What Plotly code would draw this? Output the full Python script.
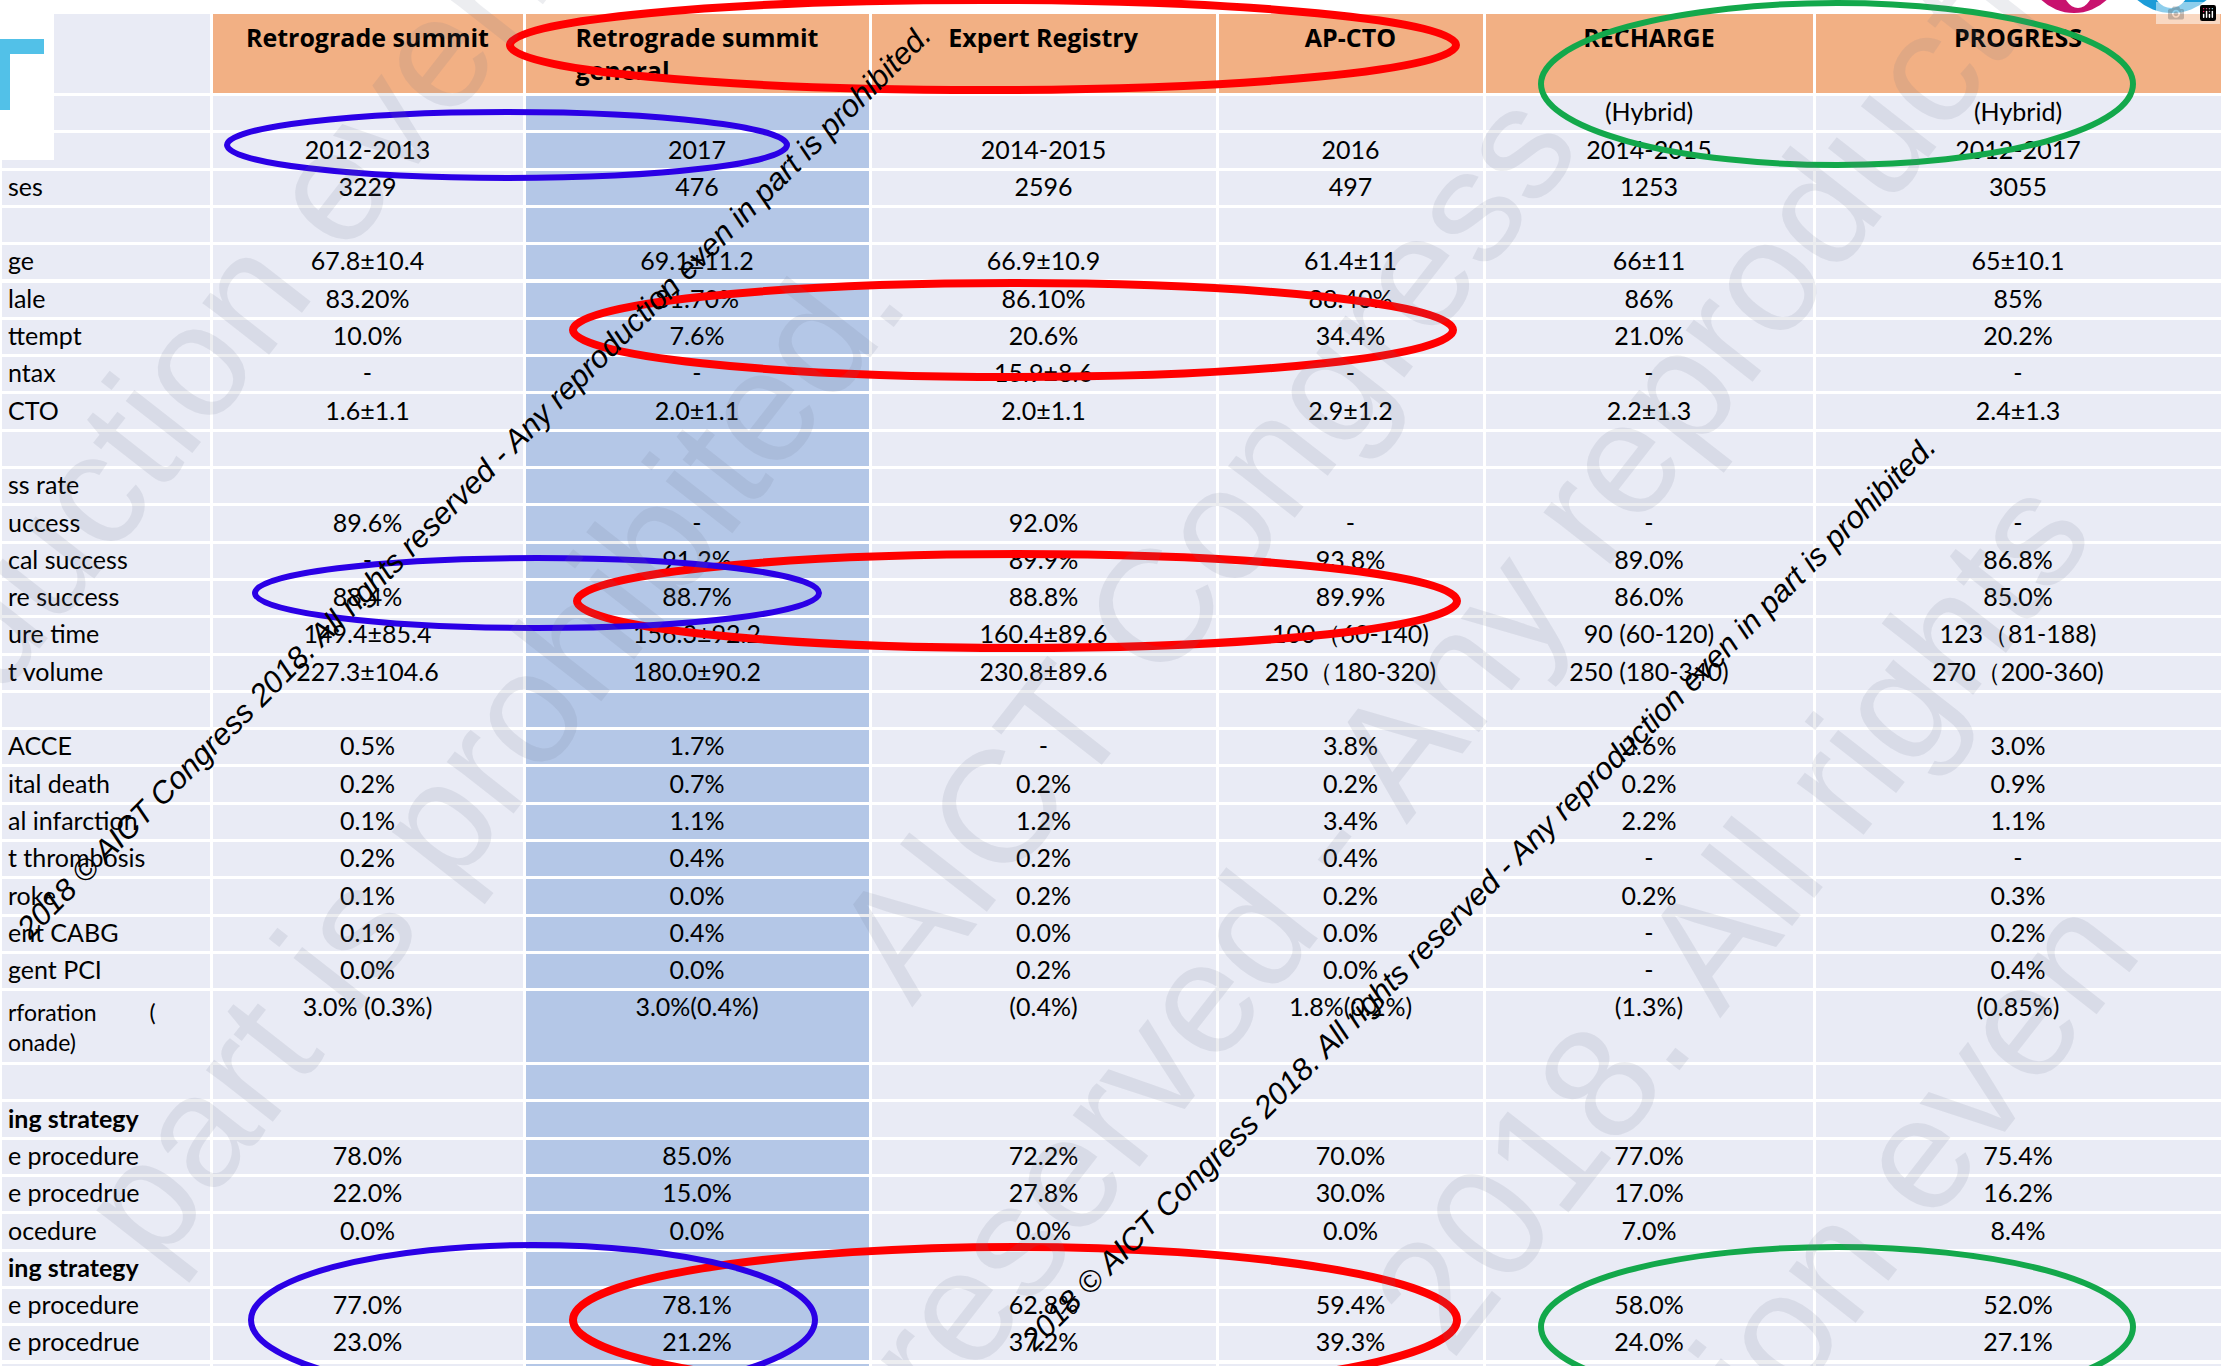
import math
import plotly.graph_objects as go

W, H = 2222, 1366

# ---------------- data ----------------
headers = ["", "Retrograde summit", "Retrograde summit<br>general", "Expert Registry",
           "AP-CTO", "RECHARGE", "PROGRESS"]

row_labels = ["", "", "ses", "", "ge", "lale", "ttempt", "ntax", "CTO", "",
              "ss rate", "uccess", "cal success", "re success", "ure time", "t volume", "",
              "ACCE", "ital death", "al infarction", "t thrombosis", "roke", "ent CABG",
              "gent PCI", "rforation" + "\u00a0" * 9 + "(<br>onade)", "",
              "ing\u00a0strategy", "e procedure", "e procedrue", "ocedure",
              "ing\u00a0strategy", "e procedure", "e procedrue", ""]

bold_labels = ["ing\u00a0strategy"]
two_line_labels = [row_labels[24]]

retro_summit = ["", "2012-2013", "3229", "", "67.8±10.4", "83.20%", "10.0%", "-", "1.6±1.1", "",
                "", "89.6%", "-", "88.4%", "149.4±85.4", "227.3±104.6", "",
                "0.5%", "0.2%", "0.1%", "0.2%", "0.1%", "0.1%", "0.0%", "3.0% (0.3%)", "",
                "", "78.0%", "22.0%", "0.0%", "", "77.0%", "23.0%", ""]

retro_general = ["", "2017", "476", "", "69.1±11.2", "81.70%", "7.6%", "-", "2.0±1.1", "",
                 "", "-", "91.2%", "88.7%", "156.3±92.2", "180.0±90.2", "",
                 "1.7%", "0.7%", "1.1%", "0.4%", "0.0%", "0.4%", "0.0%", "3.0%(0.4%)", "",
                 "", "85.0%", "15.0%", "0.0%", "", "78.1%", "21.2%", ""]

expert_registry = ["", "2014-2015", "2596", "", "66.9±10.9", "86.10%", "20.6%", "15.9±8.6", "2.0±1.1", "",
                   "", "92.0%", "89.9%", "88.8%", "160.4±89.6", "230.8±89.6", "",
                   "-", "0.2%", "1.2%", "0.2%", "0.2%", "0.0%", "0.2%", "(0.4%)", "",
                   "", "72.2%", "27.8%", "0.0%", "", "62.8%", "37.2%", ""]

ap_cto = ["", "2016", "497", "", "61.4±11", "88.40%", "34.4%", "-", "2.9±1.2", "",
          "", "-", "93.8%", "89.9%", "100\uff0860-140)", "250\uff08180-320)", "",
          "3.8%", "0.2%", "3.4%", "0.4%", "0.2%", "0.0%", "0.0%", "1.8%(0.2%)", "",
          "", "70.0%", "30.0%", "0.0%", "", "59.4%", "39.3%", ""]

recharge = ["(Hybrid)", "2014-2015", "1253", "", "66±11", "86%", "21.0%", "-", "2.2±1.3", "",
            "", "-", "89.0%", "86.0%", "90 (60-120)", "250 (180-340)", "",
            "2.6%", "0.2%", "2.2%", "-", "0.2%", "-", "-", "(1.3%)", "",
            "", "77.0%", "17.0%", "7.0%", "", "58.0%", "24.0%", ""]

progress = ["(Hybrid)", "2012-2017", "3055", "", "65±10.1", "85%", "20.2%", "-", "2.4±1.3", "",
            "", "-", "86.8%", "85.0%", "123\uff0881-188)", "270\uff08200-360)", "",
            "3.0%", "0.9%", "1.1%", "-", "0.3%", "0.2%", "0.4%", "(0.85%)", "",
            "", "75.4%", "16.2%", "8.4%", "", "52.0%", "27.1%", ""]

watermark = "2018 © AICT Congress 2018. All rights reserved - Any reproduction even in part is prohibited."

# large faint background watermark fragments: (text, position along line, line offset)
big_watermark = [
    ("reproduction even in", -200, 375),
    ("part is prohibited.", -292, 850),
    ("AICT Congress", 313, 1284),
    ("reserved - Any reproduction", 442, 1561),
    ("2018. All rights", 345, 1927),
    ("reproduction even", -71, 2221),
]

# ---------------- styling ----------------
ORANGE = "#F2B084"
LAV = "#E9EBF5"
BLUE = "#B4C7E7"
col_widths = [211, 313, 346, 347, 267, 330, 408]
FONT = "Lato, 'Open Sans', sans-serif"
HFONT = "'Open Sans', Lato, sans-serif"

cols = [row_labels, retro_summit, retro_general, expert_registry, ap_cto, recharge, progress]
col_fill = [LAV, LAV, BLUE, LAV, LAV, LAV, LAV]
header_fill = [LAV] + [ORANGE] * 6

# per-cell font size / weight grids (label column styled, others plain)
font_sizes = [[23 if (ci == 0 and v in two_line_labels) else 25 for v in col] for ci, col in enumerate(cols)]
font_weights = [["bold" if (ci == 0 and v in bold_labels) else "normal" for v in col] for ci, col in enumerate(cols)]


def px(x):
    return x / W


def py(y):
    return 1 - y / H


fig = go.Figure(go.Table(
    domain=dict(x=[0, 1], y=[0, py(12)]),
    columnwidth=col_widths,
    header=dict(
        values=["<b>%s</b>" % h if h else "" for h in headers],
        fill_color=header_fill,
        line=dict(color="white", width=3),
        align="center",
        height=75,
        font=dict(family=HFONT, size=25, color="black"),
    ),
    cells=dict(
        values=cols,
        fill_color=col_fill,
        line=dict(color="white", width=3),
        align=["left"] + ["center"] * 6,
        height=37.3,
        font=dict(family=FONT, size=25, color="black"),
    ),
))
# plotly.js accepts per-cell (2-D) font grids for tables; set them directly
fig._data[0]["cells"]["font"]["size"] = font_sizes
fig._data[0]["cells"]["font"]["weight"] = font_weights

shapes = []
# top-left logo block
shapes.append(dict(type="rect", xref="paper", yref="paper", x0=px(0), x1=px(54), y0=py(160), y1=py(0),
                   fillcolor="white", line=dict(width=0), layer="above"))
shapes.append(dict(type="rect", xref="paper", yref="paper", x0=px(0), x1=px(44), y0=py(54), y1=py(39),
                   fillcolor="#52C1E8", line=dict(width=0), layer="above"))
shapes.append(dict(type="rect", xref="paper", yref="paper", x0=px(0), x1=px(10), y0=py(110), y1=py(39),
                   fillcolor="#52C1E8", line=dict(width=0), layer="above"))
# white strip above the header
shapes.append(dict(type="rect", xref="paper", yref="paper", x0=px(0), x1=px(W), y0=py(14), y1=py(0),
                   fillcolor="white", line=dict(width=0), layer="above"))
# top-right logo fragment
shapes.append(dict(type="circle", xref="paper", yref="paper", x0=px(2027), x1=px(2121), y0=py(13), y1=py(-80),
                   fillcolor="#C8126E", line=dict(width=0), layer="above"))
shapes.append(dict(type="circle", xref="paper", yref="paper", x0=px(2062), x1=px(2094), y0=py(8), y1=py(-40),
                   fillcolor="white", line=dict(width=0), layer="above"))
shapes.append(dict(type="circle", xref="paper", yref="paper", x0=px(2122), x1=px(2222), y0=py(13), y1=py(-80),
                   fillcolor="#1C9CD8", line=dict(width=0), layer="above"))
shapes.append(dict(type="circle", xref="paper", yref="paper", x0=px(2152), x1=px(2190), y0=py(8), y1=py(-40),
                   fillcolor="white", line=dict(width=0), layer="above"))

# highlight ellipses (center x, center y, rx, ry, colour, width)
ellipses = [
    (983, 45, 473, 45, "#FF0000", 8),
    (1013, 330, 440, 47, "#FF0000", 8),
    (1017, 601, 440, 47, "#FF0000", 8),
    (1015, 1320, 442, 73, "#FF0000", 8),
    (507, 145, 280, 33, "#2B00E6", 6),
    (537, 593, 282, 35, "#2B00E6", 6),
    (533, 1320, 282, 75, "#2B00E6", 6),
    (1837, 84, 296, 81, "#13A84B", 6),
    (1837, 1327, 296, 80, "#13A84B", 6),
]
for cx, cy, rx, ry, c, lw in ellipses:
    shapes.append(dict(type="circle", xref="paper", yref="paper",
                       x0=px(cx - rx), x1=px(cx + rx), y0=py(cy + ry), y1=py(cy - ry),
                       line=dict(color=c, width=lw), layer="above"))

annotations = []
# faint large watermark, drawn along parallel lines at 52 degrees
ang = math.radians(52)
ux, uy = math.cos(ang), -math.sin(ang)
nx, ny = math.sin(ang), math.cos(ang)
for txt, t, n in big_watermark:
    cx = t * ux + n * nx
    cy = t * uy + n * ny
    annotations.append(dict(xref="paper", yref="paper", x=px(cx), y=py(cy), text=txt,
                            showarrow=False, textangle=-52, xanchor="center", yanchor="middle",
                            font=dict(family="Liberation Sans, Arial, sans-serif", size=160,
                                      color="rgba(110,115,140,0.13)")))

for cx, cy in [(474, 482), (1478, 893)]:
    annotations.append(dict(xref="paper", yref="paper", x=px(cx), y=py(cy), text="<i>%s</i>" % watermark,
                            showarrow=False, textangle=-45, xanchor="center", yanchor="middle",
                            font=dict(family="Liberation Sans, Arial, sans-serif", size=31, color="black")))

fig.update_layout(
    width=W, height=H, autosize=False,
    margin=dict(l=0, r=0, t=0, b=0),
    paper_bgcolor="white",
    shapes=shapes,
    annotations=annotations,
)

fig.write_html("out.html",
               post_script="document.body.style.margin='0';document.body.style.overflow='hidden';")
